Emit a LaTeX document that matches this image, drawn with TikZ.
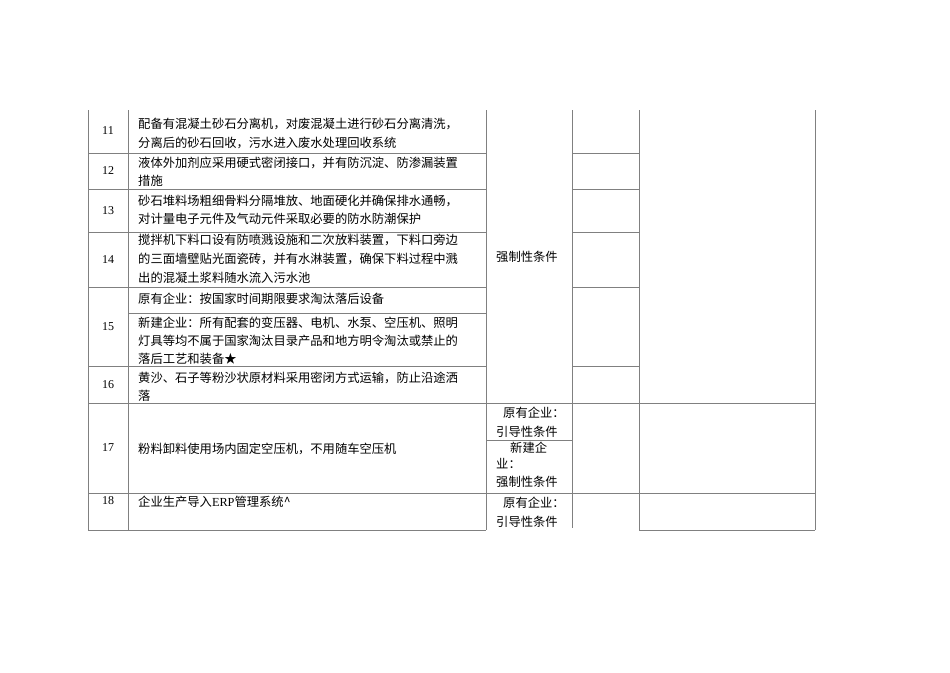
\documentclass[tikz,border=0pt]{standalone}
\usepackage{fontspec}
\setmainfont{Liberation Serif}
\newfontfamily\cjk{Noto Sans CJK SC}
\begin{document}
\begin{tikzpicture}[x=1pt,y=-1pt,
  grid/.style={draw=black!50,line width=0.8pt},
  txt/.style={anchor=west,inner sep=0pt,font=\cjk\fontsize{12.3}{14}\selectfont},
  num/.style={anchor=center,inner sep=0pt,font=\fontsize{12}{14}\selectfont}]
\useasboundingbox (0,0) rectangle (950,672);
% vertical lines
\draw[grid] (88,110) -- (88,530);
\draw[grid] (128,110) -- (128,530);
\draw[grid] (486,110) -- (486,530);
\draw[grid] (572,110) -- (572,528);
\draw[grid] (639,110) -- (639,530);
\draw[grid] (815,110) -- (815,530);
% horizontal lines
\foreach \y in {153,189,232,287,366}{\draw[grid] (88,\y) -- (486,\y); \draw[grid] (572,\y) -- (639,\y);}
\draw[grid] (128,313) -- (486,313);
\draw[grid] (88,403) -- (815,403);
\draw[grid] (486,440) -- (572,440);
\draw[grid] (88,493) -- (815,493);
\draw[grid] (88,530) -- (486,530);
\draw[grid] (639,530) -- (815,530);
% numbers
\node[num] (n11) at (108,131) {11};
\node[num] (n12) at (108,171) {12};
\node[num] (n13) at (108,211) {13};
\node[num] (n14) at (108,260) {14};
\node[num] (n15) at (108,327) {15};
\node[num] (n16) at (108,385) {16};
\node[num] (n17) at (108,448) {17};
\node[num] (n18) at (108,501) {18};
% content
\node[txt] (a1) at (138,124) {配备有混凝土砂石分离机，对废混凝土进行砂石分离清洗，};
\node[txt] (a2) at (138,143) {分离后的砂石回收，污水进入废水处理回收系统};
\node[txt] (b1) at (138,163) {液体外加剂应采用硬式密闭接口，并有防沉淀、防渗漏装置};
\node[txt] (b2) at (138,181) {措施};
\node[txt] (c1) at (138,201) {砂石堆料场粗细骨料分隔堆放、地面硬化并确保排水通畅，};
\node[txt] (c2) at (138,219) {对计量电子元件及气动元件采取必要的防水防潮保护};
\node[txt] (d1) at (138,240) {搅拌机下料口设有防喷溅设施和二次放料装置，下料口旁边};
\node[txt] (d2) at (138,259) {的三面墙壁贴光面瓷砖，并有水淋装置，确保下料过程中溅};
\node[txt] (d3) at (138,278) {出的混凝土浆料随水流入污水池};
\node[txt] (e1) at (138,299) {原有企业：按国家时间期限要求淘汰落后设备};
\node[txt] (f1) at (138,323) {新建企业：所有配套的变压器、电机、水泵、空压机、照明};
\node[txt] (f2) at (138,341) {灯具等均不属于国家淘汰目录产品和地方明令淘汰或禁止的};
\node[txt] (f3) at (138,359) {落后工艺和装备★};
\node[txt] (g1) at (138,378) {黄沙、石子等粉沙状原材料采用密闭方式运输，防止沿途洒};
\node[txt] (g2) at (138,396) {落};
\node[txt] (h1) at (138,449) {粉料卸料使用场内固定空压机，不用随车空压机};
\node[txt] (i1) at (138,502) {企业生产导入{\rmfamily ERP}管理系统\textasciicircum};
% column 3
\node[txt] (k1) at (496,257) {强制性条件};
\node[txt] (k2) at (503,413) {原有企业：};
\node[txt] (k3) at (496,432) {引导性条件};
\node[txt] (k4) at (510,448) {新建企};
\node[txt] (k5) at (496,464) {业：};
\node[txt] (k6) at (496,482) {强制性条件};
\node[txt] (k7) at (503,503) {原有企业：};
\node[txt] (k8) at (496,522) {引导性条件};
\end{tikzpicture}
\end{document}
